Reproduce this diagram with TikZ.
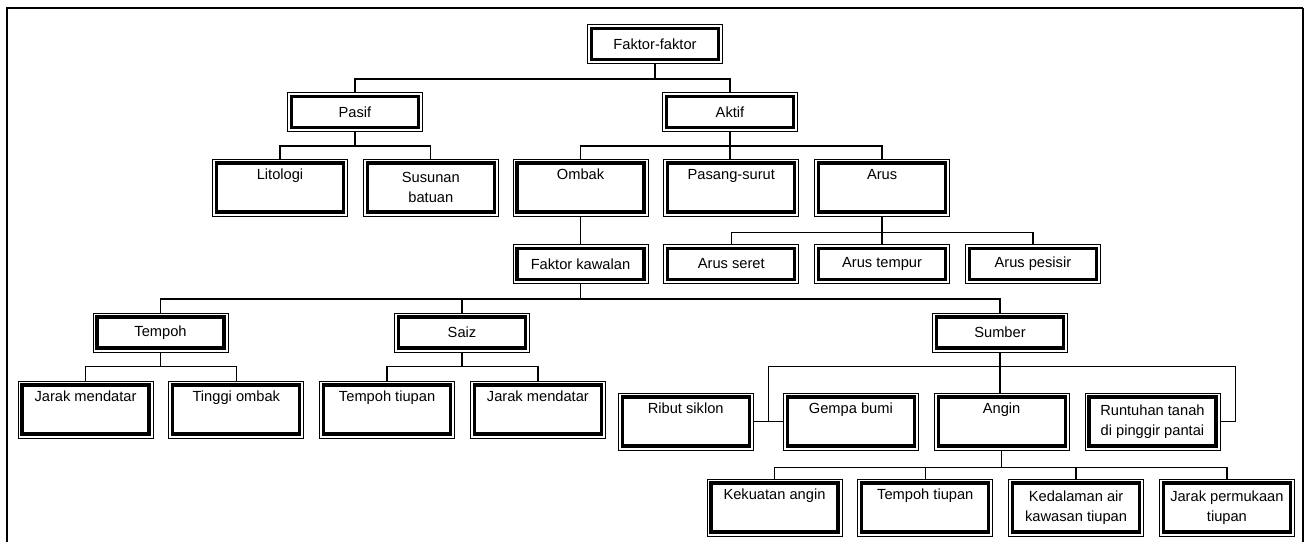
\documentclass[tikz,border=0pt]{standalone}
\usepackage{fontspec}
\setmainfont{Liberation Sans}
\usetikzlibrary{positioning,calc}

\begin{document}
\begin{tikzpicture}[x=0.75pt,y=-0.75pt,node distance=11.25pt]
\tikzstyle{B}=[draw,line width=0.6pt,minimum width=101.25pt,minimum height=29.25pt,inner sep=0pt,align=center,font=\fontsize{11}{15}\selectfont,
  path picture={\draw[line width=2.4pt] ([shift={(3pt,-3pt)}]path picture bounding box.north west) rectangle ([shift={(-3pt,3pt)}]path picture bounding box.south east);}]
\tikzstyle{T}=[B,minimum height=42.75pt]
\tikzstyle{K}=[line width=1pt]
\useasboundingbox (0,0) rectangle (1305,542);
\draw[line width=1.5pt] (7,542) -- (7,8) -- (1303,8); \draw[line width=0.8pt] (1303,8) -- (1303,542);
\node[B] (ff) at (655,44) {Faktor-faktor};
\node[B] (ps) at (355,112) {Pasif}; \node[B] (ak) at (730,112) {Aktif};
\node[T] (li) at (280,187.5) {Litologi\\\strut}; \node[T,right=of li] (su) {Susunan\\batuan};
\node[T] (om) at (580.5,187.5) {Ombak\\\strut}; \node[T,right=of om] (pg) {Pasang-surut\\\strut}; \node[T,right=of pg] (ar) {Arus\\\strut};
\node[B] (fk) at (580.5,264) {Faktor kawalan}; \node[B,right=of fk] (as) {Arus seret};
\node[B,right=of as] (at) {Arus tempur}; \node[B,right=of at] (ap) {Arus pesisir};
\node[B] (tp) at (160.5,332.5) {Tempoh}; \node[B] (sz) at (462,332.5) {Saiz}; \node[B] (sb) at (1000,332.5) {Sumber};
\node[T] (jm) at (85.5,409.5) {Jarak mendatar\\\strut}; \node[T,right=of jm] (ti) {Tinggi ombak\\\strut};
\node[T,right=of ti] (tt) {Tempoh tiupan\\\strut}; \node[T,right=of tt] (jd) {Jarak mendatar\\\strut};
\node[T] (rs) at (685.7,421.5) {Ribut siklon\\\strut}; \node[T,right=22pt of rs] (gb) {Gempa bumi\\\strut};
\node[T,right=of gb] (an) {Angin\\\strut}; \node[T,right=of an] (rt) {Runtuhan tanah\\di pinggir pantai};
\node[T] (ka) at (774.5,507.5) {Kekuatan angin\\\strut}; \node[T,right=of ka] (tw) {Tempoh tiupan\\\strut};
\node[T,right=of tw] (kd) {Kedalaman air\\kawasan tiupan}; \node[T,right=of kd] (jp) {Jarak permukaan\\tiupan};
\draw[K] (ff.south) -- ++(0,15) -| (ps.north); \draw[K] (ff.south) ++(0,15) -| (ak.north);
\draw[K] (ps.south) -- ++(0,14) -| (li.north); \draw[K] (ps.south) ++(0,14) -| (su.north);
\draw[K] (ak.south) -- ++(0,14) -| (om.north); \draw[K] (ak.south) ++(0,14) -| (ar.north); \draw[K] (ak.south) -- (ak.south |- pg.north);
\draw[K] (om.south) -- (om.south |- fk.north);
\draw[K] (ar.south) -- ++(0,16) -| (as.north); \draw[K] (ar.south) ++(0,16) -| (ap.north); \draw[K] (ar.south) -- (ar.south |- at.north);
\draw[K] (fk.south) -- ++(0,15) -| (tp.north); \draw[K] (fk.south) ++(0,15) -| (sz.north); \draw[K] (fk.south) ++(0,15) -| (sb.north);
\draw[K] (tp.south) -- ++(0,14) -| (jm.north); \draw[K] (tp.south) ++(0,14) -| (ti.north);
\draw[K] (sz.south) -- ++(0,14) -| (tt.north); \draw[K] (sz.south) ++(0,14) -| (jd.north);
\draw[K] (sb.south) -- (sb.south |- an.north); \draw[K] (sb.south) ++(0,14) -| ($(rs.east)!.5!(gb.west)$); \draw[K] (rs.east) -- (gb.west);
\draw[K] (sb.south) ++(0,14) -| ([xshift=11.25pt]rt.east) -- (rt.east);
\draw[K] (an.south) -- ++(0,17) -| (ka.north); \draw[K] (an.south) ++(0,17) -| (tw.north);
\draw[K] (an.south) ++(0,17) -| (kd.north); \draw[K] (an.south) ++(0,17) -| (jp.north);
\end{tikzpicture}
\end{document}
